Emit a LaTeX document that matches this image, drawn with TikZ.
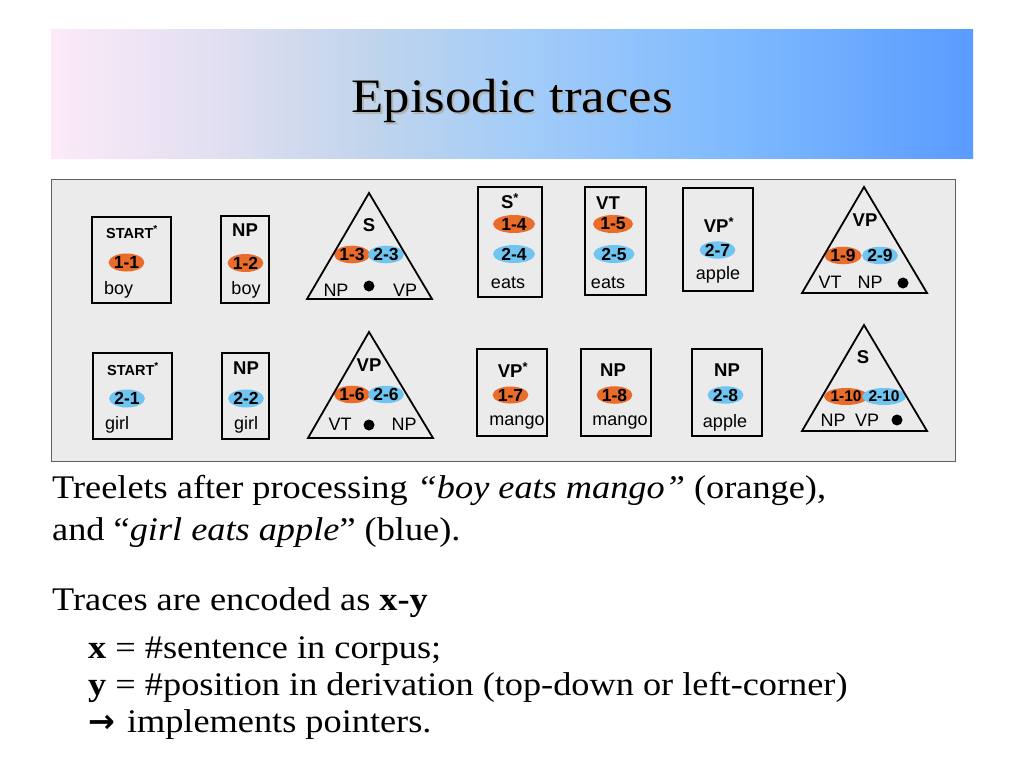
\documentclass[tikz,border=0pt]{standalone}
\usepackage{fontspec}
\setmainfont[FakeStretch=1.1]{Liberation Serif}
\newfontfamily\lsans{Liberation Sans}
\newfontfamily\djv{DejaVu Sans}
\usetikzlibrary{shapes.geometric}
\definecolor{ovorange}{RGB}{234,108,42}
\definecolor{ovblue}{RGB}{112,196,240}
\definecolor{panelgray}{RGB}{235,235,235}
\definecolor{panelline}{RGB}{95,95,95}
\definecolor{tg0}{RGB}{252,234,248}
\definecolor{tg1}{RGB}{222,222,240}
\definecolor{tg2}{RGB}{192,212,236}
\definecolor{tg3}{RGB}{165,205,248}
\definecolor{tg4}{RGB}{125,185,255}
\definecolor{tg5}{RGB}{90,155,255}
\pgfdeclarehorizontalshading{titlegrad}{100bp}{color(0bp)=(tg0); color(25bp)=(tg0); color(35bp)=(tg1); color(42.5bp)=(tg2); color(50bp)=(tg3); color(62.5bp)=(tg4); color(75bp)=(tg5); color(100bp)=(tg5)}
\tikzset{
  tbox/.style={draw, line width=1.8pt},
  tri/.style={draw, line width=1.8pt, line join=miter},
  ov/.style={ellipse, minimum width=35pt, minimum height=18pt, inner sep=0pt,
             font=\lsans\bfseries\fontsize{17.5}{17.5}\selectfont},
  ovo/.style={ov, fill=ovorange},
  ovb/.style={ov, fill=ovblue},
  cat/.style={font=\lsans\bfseries\fontsize{18.5}{18.5}\selectfont, inner sep=0pt},
  smallcat/.style={font=\lsans\bfseries\fontsize{14.5}{14.5}\selectfont, inner sep=0pt},
  word/.style={font=\lsans\fontsize{18}{18}\selectfont, inner sep=0pt},
  dotn/.style={circle, fill=black, minimum size=11pt, inner sep=0pt},
  body/.style={anchor=base west, inner sep=0pt, font=\fontsize{33}{38}\selectfont},
}
\begin{document}
\begin{tikzpicture}[x=1pt,y=-1pt]
\useasboundingbox (0,0) rectangle (1024,768);
\fill[white] (0,0) rectangle (1024,768);
% title bar
\shade[shading=titlegrad] (51,30) rectangle (973,158);
\node[font=\fontsize{48}{52}\selectfont, text=black!30, inner sep=0pt] (titleshadow) at (514,103) {Episodic traces};
\node[font=\fontsize{48}{52}\selectfont, inner sep=0pt] (title) at (512,101) {Episodic traces};
% panel
\draw[panelline, fill=panelgray, line width=1pt] (51,179) rectangle (955,461);

% ---------- top row ----------
% START* 1-1
\draw[tbox] (92,217) rectangle (171,303);
\node[smallcat] (a1) at (132,232) {START\textsuperscript{*}};
\node[ovo] (o11) at (126.5,262.5) {1-1};
\node[word, anchor=west] (w11) at (104,290) {boy};
% NP 1-2
\draw[tbox] (221,216) rectangle (269,303);
\node[cat] (a2) at (245,230) {NP};
\node[ovo] (o12) at (245.5,263) {1-2};
\node[word] (w12) at (246,290) {boy};
% triangle S
\node[cat] (a3) at (369,225) {S};
\node[ovo, minimum width=34pt, minimum height=17pt] (o13) at (352,254.5) {1-3};
\node[ovb, minimum width=34pt, minimum height=17pt] (o23) at (386,254.5) {2-3};
\node[word] (w13a) at (336,290) {NP};
\node[dotn] (d13) at (369,286) {};
\node[word] (w13b) at (405,290) {VP};
\draw[tri] (369,193) -- (307,299) -- (432,299) -- cycle;
% S* 1-4 2-4
\draw[tbox] (478,187) rectangle (542,297);
\node[cat] (a4) at (510,201) {S\textsuperscript{*}};
\node[ovo, minimum width=42pt, minimum height=18pt] (o14) at (514,224) {1-4};
\node[ovb, minimum width=42pt, minimum height=18pt] (o24) at (514,254) {2-4};
\node[word] (w14) at (508,283) {eats};
% VT 1-5 2-5
\draw[tbox] (585,187) rectangle (646,295);
\node[cat] (a5) at (608,203) {VT};
\node[ovo, minimum width=40pt, minimum height=18pt] (o15) at (613,224) {1-5};
\node[ovb, minimum width=41pt, minimum height=18pt] (o25) at (614,254) {2-5};
\node[word] (w15) at (608,283) {eats};
% VP* 2-7
\draw[tbox] (683,188) rectangle (753,291);
\node[cat] (a7) at (719,225) {VP\textsuperscript{*}};
\node[ovb, minimum height=17pt] (o27) at (717.5,250) {2-7};
\node[word] (w27) at (718,275) {apple};
% triangle VP 1-9 2-9
\node[cat] (a9) at (865,220) {VP};
\node[ovo, minimum width=37pt, minimum height=17pt] (o19) at (843,255.5) {1-9};
\node[ovb, minimum width=35pt, minimum height=17pt] (o29) at (880,255.5) {2-9};
\node[word] (w19a) at (830,282) {VT};
\node[word] (w19b) at (870,282) {NP};
\node[dotn] (d19) at (903,283) {};
\draw[tri] (864,187) -- (802,293) -- (927,293) -- cycle;

% ---------- bottom row ----------
% START* 2-1
\draw[tbox] (93,353) rectangle (172,439);
\node[smallcat] (b1) at (133,369) {START\textsuperscript{*}};
\node[ovb] (o21) at (127,398.5) {2-1};
\node[word, anchor=west] (w21) at (105,425) {girl};
% NP 2-2
\draw[tbox] (222,353) rectangle (269,439);
\node[cat] (b2) at (246,368) {NP};
\node[ovb] (o22) at (246,398.5) {2-2};
\node[word] (w22) at (246,425) {girl};
% triangle VP 1-6 2-6
\node[cat] (b3) at (369,365) {VP};
\node[ovo, minimum width=34pt, minimum height=17pt] (o16) at (352,394.5) {1-6};
\node[ovb, minimum width=34pt, minimum height=17pt] (o26) at (386,394.5) {2-6};
\node[word] (w16a) at (340,424) {VT};
\node[dotn] (d16) at (369,425) {};
\node[word] (w16b) at (404,424) {NP};
\draw[tri] (369,332) -- (308,438) -- (433,438) -- cycle;
% VP* 1-7
\draw[tbox] (477,349) rectangle (547,436);
\node[cat] (b7) at (513,370) {VP\textsuperscript{*}};
\node[ovo, minimum height=17pt] (o17) at (510.5,395) {1-7};
\node[word] (w17) at (517,423) {mango};
% NP 1-8
\draw[tbox] (581,349) rectangle (651,436);
\node[cat] (b8) at (613,370) {NP};
\node[ovo, minimum height=17pt] (o18) at (614.5,395) {1-8};
\node[word] (w18) at (620,423) {mango};
% NP 2-8
\draw[tbox] (692,349) rectangle (762,436);
\node[cat] (b28) at (727,370) {NP};
\node[ovb, minimum height=17pt] (o28) at (725.5,395) {2-8};
\node[word] (w28) at (725,423) {apple};
% triangle S 1-10 2-10
\node[cat] (b10) at (863,357) {S};
\node[ovo, minimum width=39pt, minimum height=17pt, font=\lsans\bfseries\fontsize{15.5}{16}\selectfont] (o110) at (846,396.5) {1-10};
\node[ovb, minimum width=38pt, minimum height=17pt, font=\lsans\bfseries\fontsize{15.5}{16}\selectfont] (o210) at (884,396.5) {2-10};
\node[word] (w110a) at (833,420) {NP};
\node[word] (w110b) at (867,420) {VP};
\node[dotn] (d110) at (897,420) {};
\draw[tri] (864,325) -- (802,431) -- (927,431) -- cycle;

% ---------- body text ----------
\node[body] (t1) at (52,498) {Treelets after processing \textit{“boy eats mango”} (orange),};
\node[body] (t2) at (52,540) {and “\textit{girl eats apple}” (blue).};
\node[body] (t3) at (52,610) {Traces are encoded as \textbf{x-y}};
\node[body] (t4) at (88,658) {\textbf{x} = \#sentence in corpus;};
\node[body] (t5) at (88,695) {\textbf{y} = \#position in derivation (top-down or left-corner)};
\node[body] (t6) at (88,732) {{\djv\bfseries\fontsize{32}{36}\selectfont →}\hspace{12pt}implements pointers.};
\end{tikzpicture}
\end{document}
